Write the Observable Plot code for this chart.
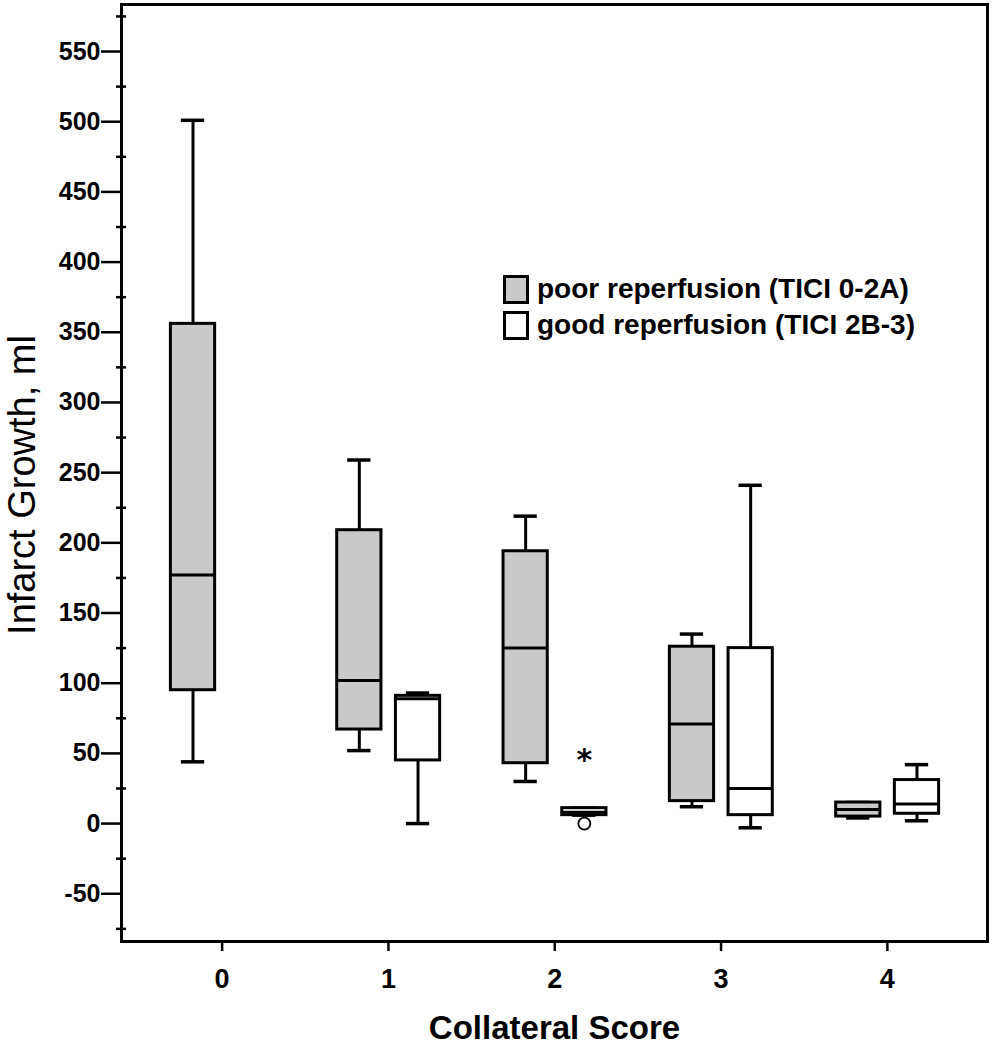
<!DOCTYPE html>
<html>
<head>
<meta charset="utf-8">
<script src="https://cdn.jsdelivr.net/npm/d3@7"></script>
<script src="https://cdn.jsdelivr.net/npm/@observablehq/plot@0.6"></script>
<style>
  html, body { margin: 0; padding: 0; background: #fff; }
  #wrap { position: relative; width: 993px; height: 1050px; font-family: "Liberation Sans", Arial, sans-serif; }
  #legend { position: absolute; left: 503px; top: 271px; font-weight: bold; font-size: 28px; color: #000; }
  .row { display: flex; align-items: center; height: 36px; }
  .sw { width: 20px; height: 23px; border: 3px solid #000; margin-right: 8px; box-sizing: content-box; }
</style>
</head>
<body>
<div id="wrap"></div>
<script>
// ---- Data ----
const categories = [0, 1, 2, 3, 4];
const groupNames = ["poor reperfusion (TICI 0-2A)", "good reperfusion (TICI 2B-3)"];
const groupFill = ["#c9c9c9", "#ffffff"];
const xTitle = "Collateral Score";
const yTitle = "Infarct Growth, ml";

const poorCat = [0, 1, 2, 3, 4];
const poorLo  = [44, 52, 30, 12, 4];
const poorQ1  = [95, 67, 43, 16, 5];
const poorMed = [177, 102, 125, 71, 10];
const poorQ3  = [356, 209, 194, 126, 15];
const poorHi  = [501, 259, 219, 135, 15];

const goodCat = [1, 2, 3, 4];
const goodLo  = [0, 6, -3, 2];
const goodQ1  = [45, 6, 6, 7];
const goodMed = [89, 8, 25, 14];
const goodQ3  = [91, 11, 125, 31];
const goodHi  = [93, 11, 241, 42];

const outCat    = [2, 2];
const outGroup  = [1, 1];
const outValue  = [0, 50];
const outSymbol = ["o", "*"];

const yMajor = d3.range(-50, 551, 50);
const yMinor = d3.range(-75, 576, 50);

// ---- Build table ----
const groupOffset = [-0.175, 0.178];
const halfW = 0.133;
const capW = 0.07;
function rows(g, cat, lo, q1, med, q3, hi) {
  return cat.map((c, i) => ({g, cat: c, xc: c + groupOffset[g], lo: lo[i], q1: q1[i], med: med[i], q3: q3[i], hi: hi[i]}));
}
const boxes = [...rows(0, poorCat, poorLo, poorQ1, poorMed, poorQ3, poorHi),
               ...rows(1, goodCat, goodLo, goodQ1, goodMed, goodQ3, goodHi)];
const outliers = outCat.map((c, i) => ({xc: c + groupOffset[outGroup[i]], v: outValue[i], s: outSymbol[i]}));

const font = "Liberation Sans, Arial, sans-serif";
const chart = Plot.plot({
  width: 993,
  height: 1050,
  marginLeft: 121,
  marginRight: 6,
  marginTop: 4,
  marginBottom: 109,
  style: {fontFamily: font, background: "white", color: "black"},
  x: {domain: [-0.605, 4.602]},
  y: {domain: [-84, 583.5]},
  marks: [
    // whiskers
    Plot.ruleX(boxes, {x: "xc", y1: "q3", y2: "hi", stroke: "black", strokeWidth: 3}),
    Plot.ruleX(boxes, {x: "xc", y1: "lo", y2: "q1", stroke: "black", strokeWidth: 3}),
    Plot.ruleY(boxes, {y: "hi", x1: d => d.xc - capW, x2: d => d.xc + capW, stroke: "black", strokeWidth: 3.5}),
    Plot.ruleY(boxes, {y: "lo", x1: d => d.xc - capW, x2: d => d.xc + capW, stroke: "black", strokeWidth: 3.5}),
    // boxes
    Plot.rect(boxes, {x1: d => d.xc - halfW, x2: d => d.xc + halfW, y1: "q1", y2: "q3",
      fill: d => groupFill[d.g], stroke: "black", strokeWidth: 3}),
    // medians
    Plot.ruleY(boxes, {y: "med", x1: d => d.xc - halfW, x2: d => d.xc + halfW, stroke: "black", strokeWidth: 3}),
    // outliers
    Plot.dot(outliers.filter(d => d.s === "o"), {x: "xc", y: "v", r: 6, stroke: "black", strokeWidth: 1.8, fill: "white"}),
    Plot.text(outliers.filter(d => d.s === "*"), {x: "xc", y: "v", text: d => "*", fontSize: 30, fontWeight: "bold", dy: 7, fontFamily: "DejaVu Sans"}),
    // axes
    Plot.axisY({ticks: yMajor, tickSize: 20, tickPadding: 1, fontSize: 25, fontWeight: "bold", strokeWidth: 2.5, label: null, tickFormat: d => String(d)}),
    Plot.axisY({ticks: yMinor, tickSize: 10, dx: 5, tickFormat: () => "", strokeWidth: 2.5, label: null}),
    Plot.axisX({ticks: categories, tickSize: 10, tickPadding: 17, fontSize: 27, fontWeight: "bold", strokeWidth: 2.5, label: null, tickFormat: d => String(d)}),
    Plot.frame({stroke: "black", strokeWidth: 3}),
    // axis titles
    Plot.text([xTitle], {frameAnchor: "bottom", dy: 87, text: d => d, fontSize: 33, fontWeight: "bold", lineAnchor: "middle", fill: "black"}),
    Plot.text([yTitle], {frameAnchor: "left", dx: -99, dy: 12, rotate: -90, text: d => d, fontSize: 38, textAnchor: "middle", lineAnchor: "middle", fill: "black"})
  ]
});

const wrap = document.getElementById("wrap");
wrap.appendChild(chart);
const legend = document.createElement("div");
legend.id = "legend";
groupNames.forEach((name, i) => {
  const row = document.createElement("div");
  row.className = "row";
  const sw = document.createElement("div");
  sw.className = "sw";
  sw.style.background = groupFill[i];
  const label = document.createElement("span");
  label.textContent = name;
  row.appendChild(sw);
  row.appendChild(label);
  legend.appendChild(row);
});
wrap.appendChild(legend);
</script>
</body>
</html>
